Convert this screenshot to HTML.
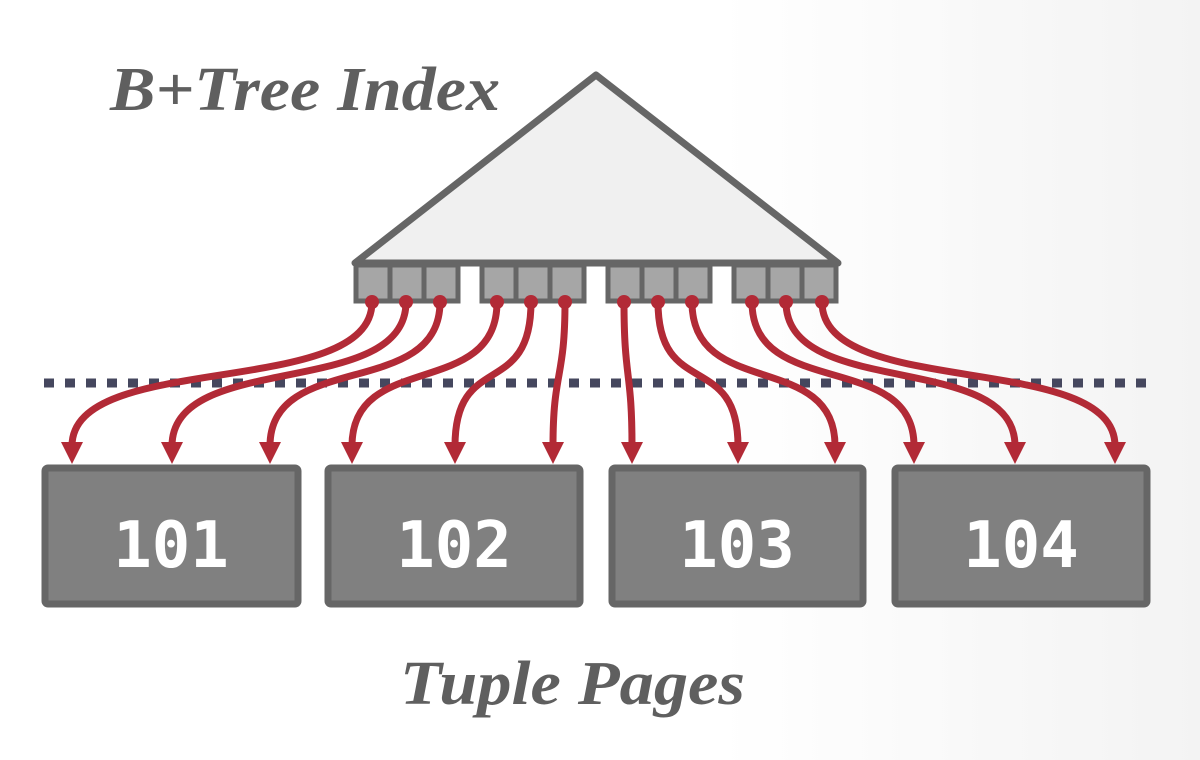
<!DOCTYPE html>
<html><head><meta charset="utf-8"><style>
html,body{margin:0;padding:0;width:1200px;height:760px;overflow:hidden;}
body{background:linear-gradient(90deg,#fff 0%,#fff 60%,#f3f3f3 100%);}
</style></head><body>
<svg width="1200" height="760" viewBox="0 0 1200 760" xmlns="http://www.w3.org/2000/svg">
<defs>
<marker id="ah" markerWidth="22" markerHeight="22" refX="4" refY="11" orient="auto" markerUnits="userSpaceOnUse" viewBox="0 0 22 22">
<path d="M0,0 L22,11 L0,22 Z" fill="#b22a36"/>
</marker>
</defs>
<text x="110" y="110" font-family="'Liberation Serif', serif" font-style="italic" font-weight="bold" font-size="62" fill="#5f5f5f" textLength="390" lengthAdjust="spacingAndGlyphs">B+Tree Index</text>
<polygon points="596,75 355,263 838,263" fill="#f0f0f0" stroke="#666" stroke-width="7" stroke-linejoin="round"/>
<g fill="#a6a6a6" stroke="#666" stroke-width="5">
<rect x="356" y="265" width="34" height="36"/><rect x="390" y="265" width="34" height="36"/><rect x="424" y="265" width="34" height="36"/>
<rect x="482" y="265" width="34" height="36"/><rect x="516" y="265" width="34" height="36"/><rect x="550" y="265" width="34" height="36"/>
<rect x="608" y="265" width="34" height="36"/><rect x="642" y="265" width="34" height="36"/><rect x="676" y="265" width="34" height="36"/>
<rect x="734" y="265" width="34" height="36"/><rect x="768" y="265" width="34" height="36"/><rect x="802" y="265" width="34" height="36"/>
</g>
<line x1="44" y1="383" x2="1150" y2="383" stroke="#45475e" stroke-width="9" stroke-dasharray="10 11"/>
<g fill="#808080" stroke="#666" stroke-width="7">
<rect x="45" y="468" width="253" height="136" rx="3"/>
<rect x="328" y="468" width="252" height="136" rx="3"/>
<rect x="612" y="468" width="251" height="136" rx="3"/>
<rect x="895" y="468" width="252" height="136" rx="3"/>
</g>
<g font-family="'DejaVu Sans Mono', monospace" font-weight="bold" font-size="64" fill="#fff" text-anchor="middle">
<text x="171" y="567">101</text><text x="454" y="567">102</text><text x="737" y="567">103</text><text x="1021" y="567">104</text>
</g>
<g fill="none" stroke="#b22a36" stroke-width="7" marker-end="url(#ah)">
<path d="M372,302 C372,400 72,350 72,446"/>
<path d="M406,302 C406,400 172,350 172,446"/>
<path d="M440,302 C440,400 270,350 270,446"/>
<path d="M497,302 C497,400 352,350 352,446"/>
<path d="M531,302 C531,400 455,350 455,446"/>
<path d="M565,302 C565,380 553,370 553,446"/>
<path d="M624,302 C624,380 632,370 632,446"/>
<path d="M658,302 C658,400 738,350 738,446"/>
<path d="M692,302 C692,400 835,350 835,446"/>
<path d="M752,302 C752,400 914,350 914,446"/>
<path d="M786,302 C786,400 1015,350 1015,446"/>
<path d="M822,302 C822,400 1115,350 1115,446"/>
</g>
<g fill="#b22a36">
<circle cx="372" cy="302" r="7"/><circle cx="406" cy="302" r="7"/><circle cx="440" cy="302" r="7"/>
<circle cx="497" cy="302" r="7"/><circle cx="531" cy="302" r="7"/><circle cx="565" cy="302" r="7"/>
<circle cx="624" cy="302" r="7"/><circle cx="658" cy="302" r="7"/><circle cx="692" cy="302" r="7"/>
<circle cx="752" cy="302" r="7"/><circle cx="786" cy="302" r="7"/><circle cx="822" cy="302" r="7"/>
</g>
<text x="400" y="704" font-family="'Liberation Serif', serif" font-style="italic" font-weight="bold" font-size="62" fill="#5f5f5f" textLength="345" lengthAdjust="spacingAndGlyphs">Tuple Pages</text>
</svg>
</body></html>
